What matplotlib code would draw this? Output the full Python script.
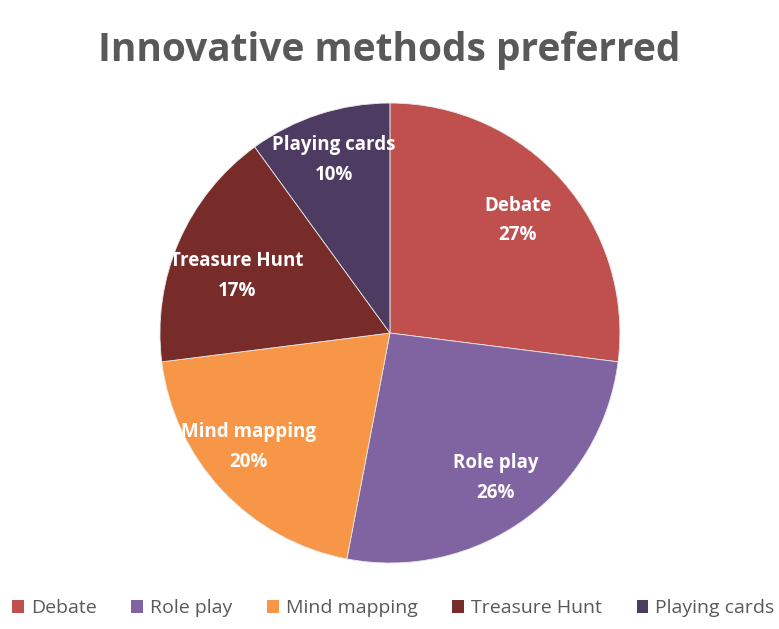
import numpy as np
import matplotlib.pyplot as plt
from matplotlib.patches import Patch

labels = ["Debate", "Role play", "Mind mapping", "Treasure Hunt", "Playing cards"]
shares = [27, 26, 20, 17, 10]
colors = ["#C0504D", "#8064A2", "#F79646", "#772C2A", "#4D3B62"]
# where each data label sits: fraction of radius, angle nudge in degrees
label_radius = [0.74, 0.78, 0.79, 0.71, 0.79]
label_nudge = [0, 0, -4.5, 3, 0]

plt.rcParams["font.family"] = ["Open Sans", "DejaVu Sans"]

fig = plt.figure(figsize=(7.79, 6.29), dpi=100)
ax = fig.add_axes([0.2053, 0.1049, 0.5905, 0.7313])

wedges, _ = ax.pie(
    shares,
    colors=colors,
    startangle=90,
    counterclock=False,
    wedgeprops=dict(linewidth=0.6, edgecolor="#e8e8e8"),
)
ax.set_xlim(-1, 1)
ax.set_ylim(-1, 1)
ax.set_aspect("equal")

# data labels inside each slice
for w, name, val, r, d in zip(wedges, labels, shares, label_radius, label_nudge):
    ang = np.deg2rad((w.theta1 + w.theta2) / 2 + d)
    x, y = r * np.cos(ang), r * np.sin(ang)
    ax.text(x, y, f"{name}\n{val}%", ha="center", va="center", color="white",
            fontsize=13.5, fontweight="bold", linespacing=1.65)

fig.text(0.5, 0.92, "Innovative methods preferred", ha="center", va="center",
         fontsize=28, fontweight="bold", color="#595959")

handles = [Patch(facecolor=c, edgecolor="none") for c in colors]
fig.legend(handles, labels, loc="center", bbox_to_anchor=(0.505, 0.033), ncol=5,
           frameon=False, fontsize=14, labelcolor="#595959",
           handlelength=0.6, handleheight=0.6, handletextpad=0.35,
           columnspacing=1.8)

fig.savefig("out.png", dpi=100, facecolor="white")
